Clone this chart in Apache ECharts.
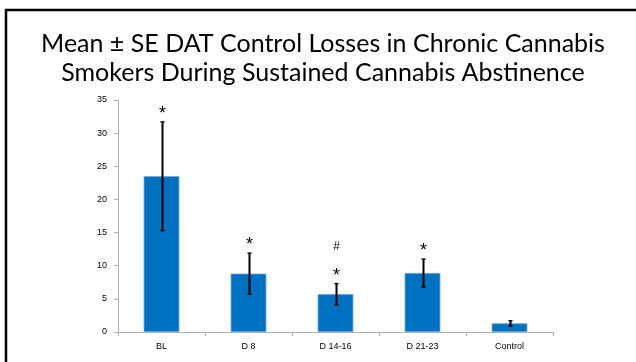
<!DOCTYPE html>
<html>
<head>
<meta charset="utf-8">
<script src="https://cdn.jsdelivr.net/npm/echarts@6/dist/echarts.min.js"></script>
<style>
html,body{margin:0;padding:0;background:#fff;}
#c{width:636px;height:362px;}
</style>
</head>
<body>
<div id="c"></div>
<script>
var categories = ["BL", "D 8", "D 14-16", "D 21-23", "Control"];
var means = [23.5, 8.8, 5.7, 8.9, 1.3];
var se = [8.2, 3.1, 1.6, 2.1, 0.4];
var stars = ["*", "*", "*", "*", ""];
var hashes = ["", "", "#", "", ""];
var yTicks = [0, 5, 10, 15, 20, 25, 30, 35];

var chart = echarts.init(document.getElementById('c'), null, {renderer: 'canvas'});

var errData = categories.map(function (c, i) {
  return [i, means[i] - se[i], means[i] + se[i]];
});

chart.setOption({
  animation: false,
  backgroundColor: '#fff',
  title: {
    text: 'Mean \u00B1 SE DAT Control Losses in Chronic Cannabis\nSmokers During Sustained Cannabis Abstinence',
    left: 318,
    textAlign: 'center',
    top: 24,
    textStyle: {
      fontFamily: 'Lato',
      fontWeight: 'normal',
      fontSize: 25,
      lineHeight: 29,
      color: '#000'
    }
  },
  graphic: [{
    type: 'rect',
    shape: {x: 6, y: 10, width: 700, height: 400},
    style: {fill: 'none', stroke: '#000', lineWidth: 2.5},
    silent: true
  }],
  grid: {left: 118, right: 83, top: 100, bottom: 30},
  xAxis: {
    type: 'category',
    data: categories,
    axisLine: {lineStyle: {color: '#b0b0b0', width: 1}},
    axisTick: {show: true, length: 4, lineStyle: {color: '#b0b0b0'}},
    axisLabel: {fontFamily: 'Liberation Sans', fontSize: 9, color: '#000', margin: 10}
  },
  yAxis: {
    type: 'value',
    min: yTicks[0],
    max: yTicks[yTicks.length - 1],
    interval: 5,
    axisLine: {show: true, lineStyle: {color: '#b0b0b0', width: 1}},
    axisTick: {show: true, length: 4, lineStyle: {color: '#b0b0b0'}},
    splitLine: {show: false},
    axisLabel: {fontFamily: 'Liberation Sans', fontSize: 9, color: '#000', margin: 11}
  },
  series: [{
    type: 'bar',
    data: means,
    barWidth: '41%',
    itemStyle: {color: '#0070C0', borderColor: '#5b9bd5', borderWidth: 0.8},
    z: 2
  }, {
    type: 'custom',
    data: errData,
    z: 5,
    renderItem: function (params, api) {
      var i = api.value(0);
      var lo = api.coord([i, api.value(1)]);
      var hi = api.coord([i, api.value(2)]);
      var x = Math.round(lo[0]) + 0.5;
      var children = [
        {type: 'line', shape: {x1: x, y1: lo[1], x2: x, y2: hi[1]}, style: {stroke: '#000', lineWidth: 2}},
        {type: 'line', shape: {x1: x - 2, y1: lo[1], x2: x + 2, y2: lo[1]}, style: {stroke: '#000', lineWidth: 1.5}},
        {type: 'line', shape: {x1: x - 2, y1: hi[1], x2: x + 2, y2: hi[1]}, style: {stroke: '#000', lineWidth: 1.5}}
      ];
      if (stars[i]) {
        children.push({type: 'text', style: {text: stars[i], x: x, y: hi[1] - 8, textAlign: 'center', textVerticalAlign: 'middle', fontFamily: 'Liberation Sans', fontSize: 18, fill: '#000'}});
      }
      if (hashes[i]) {
        children.push({type: 'text', style: {text: hashes[i], x: x, y: hi[1] - 37, textAlign: 'center', textVerticalAlign: 'middle', fontFamily: 'Liberation Sans', fontSize: 12, fill: '#000'}});
      }
      return {type: 'group', children: children};
    }
  }]
});
</script>
</body>
</html>
